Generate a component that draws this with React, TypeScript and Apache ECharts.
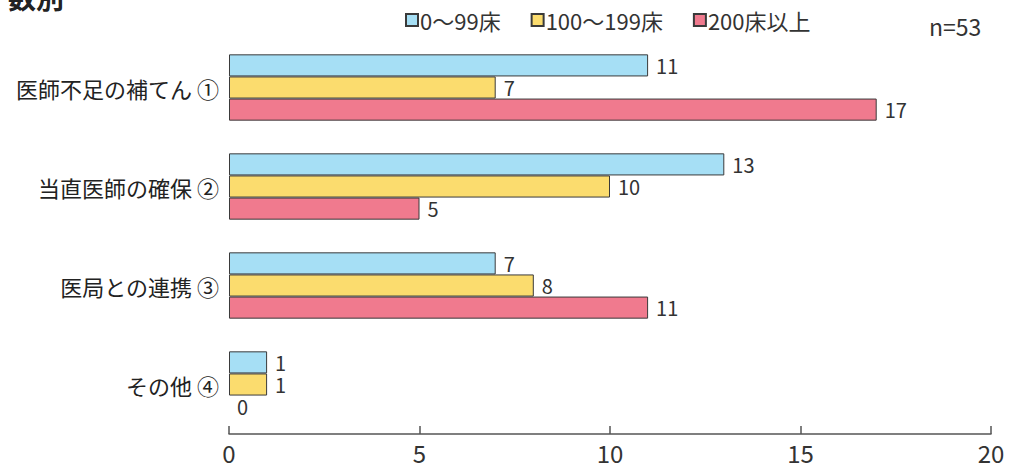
import React, { useEffect, useRef } from "react";
import * as echarts from "echarts";

const categories = ["医師不足の補てん ①", "当直医師の確保 ②", "医局との連携 ③", "その他 ④"];
const seriesNames = ["0〜99床", "100〜199床", "200床以上"];
const small = [11, 13, 7, 1];
const medium = [7, 10, 8, 1];
const large = [17, 5, 11, 0];
const colors = ["#a6dff5", "#fbdc6e", "#f07a8e"];
const xTicks = [0, 5, 10, 15, 20];

const FONT = "'Noto Sans CJK JP', 'Noto Sans', sans-serif";

export default function App() {
  const ref = useRef<HTMLDivElement>(null);
  useEffect(() => {
    if (!ref.current) return;
    const chart = echarts.init(ref.current, undefined, { renderer: "svg" });
    const data = [small, medium, large];
    chart.setOption({
      animation: false,
      backgroundColor: "#ffffff",
      textStyle: { fontFamily: FONT, color: "#333" },
      legend: {
        left: 400,
        top: 4,
        icon: "rect",
        itemWidth: 12,
        itemHeight: 12,
        itemGap: 30,
        textStyle: { fontSize: 22, color: "#333", fontFamily: FONT, padding: [0, 0, 0, -3] },
        data: seriesNames,
      },
      graphic: [
        {
          type: "text",
          left: 929,
          top: 14,
          style: { text: "n=53", fontSize: 23, fill: "#333", fontFamily: FONT },
        },
        {
          type: "text",
          left: 8,
          top: -17,
          style: { text: "数別", fontSize: 28, fontWeight: "bold", fill: "#222", fontFamily: FONT },
        },
      ],
      grid: { left: 229, right: 22, top: 38, height: 396, containLabel: false },
      xAxis: {
        type: "value",
        min: xTicks[0],
        max: xTicks[xTicks.length - 1],
        interval: 5,
        axisLine: { show: true, lineStyle: { color: "#555", width: 1.5 } },
        axisTick: { show: true, inside: true, length: 8, lineStyle: { color: "#555", width: 1.5 } },
        splitLine: { show: false },
        axisLabel: { fontSize: 24, color: "#333", margin: 6, fontFamily: FONT },
      },
      yAxis: {
        type: "category",
        inverse: true,
        data: categories,
        axisLine: { show: false },
        axisTick: { show: false },
        axisLabel: { fontSize: 22, color: "#222", margin: 10, fontFamily: FONT },
      },
      series: seriesNames.map((name, i) => ({
        name,
        type: "bar",
        data: data[i].map((v) => (v === 0 ? { value: v, itemStyle: { borderWidth: 0 } } : v)),
        barGap: "0%",
        barCategoryGap: "33%",
        itemStyle: { color: colors[i], borderColor: "#3a3a3a", borderWidth: 1 },
        label: {
          show: true,
          position: "right",
          distance: 8,
          fontSize: 20,
          color: "#333",
          fontFamily: FONT,
        },
      })),
    });
    return () => chart.dispose();
  }, []);
  return <div ref={ref} style={{ width: 1013, height: 470, position: "absolute", left: 0, top: 0 }} />;
}
